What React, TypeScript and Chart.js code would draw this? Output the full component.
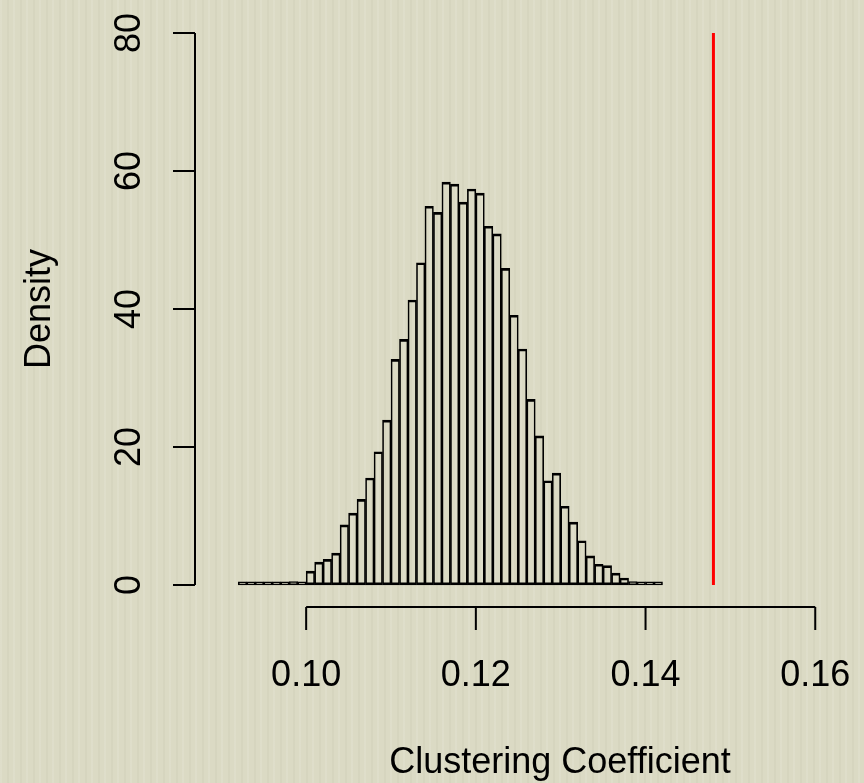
import React, { useEffect, useRef } from "react";
import { Chart, registerables } from "chart.js";

Chart.register(...registerables);

// Histogram bin centres (bin width 0.001, from 0.092 to 0.142)
const binCenters: number[] = [
  0.0925, 0.0935, 0.0945, 0.0955, 0.0965, 0.0975, 0.0985, 0.0995,
  0.1005, 0.1015, 0.1025, 0.1035, 0.1045, 0.1055, 0.1065, 0.1075,
  0.1085, 0.1095, 0.1105, 0.1115, 0.1125, 0.1135, 0.1145, 0.1155,
  0.1165, 0.1175, 0.1185, 0.1195, 0.1205, 0.1215, 0.1225, 0.1235,
  0.1245, 0.1255, 0.1265, 0.1275, 0.1285, 0.1295, 0.1305, 0.1315,
  0.1325, 0.1335, 0.1345, 0.1355, 0.1365, 0.1375, 0.1385, 0.1395,
  0.1405, 0.1415,
];

// Density per bin
const densities: number[] = [
  0.1, 0.1, 0.15, 0.2, 0.25, 0.1, 0.5, 0.3,
  2.0, 3.3, 3.7, 4.6, 8.7, 10.4, 12.4, 15.5,
  19.3, 23.9, 32.7, 35.6, 41.3, 46.7, 54.9, 54.0,
  58.4, 58.1, 55.5, 57.4, 56.8, 52.0, 50.9, 45.9,
  39.1, 34.2, 26.9, 21.6, 15.1, 16.2, 11.4, 9.1,
  6.4, 4.2, 3.0, 2.8, 1.7, 1.0, 0.5, 0.3,
  0.05, 0.2,
];

const observedValue = 0.148;
const observedLineRange: number[] = [0, 80];

const yTicks: number[] = [0, 20, 40, 60, 80];
const yTickLabels: string[] = ["0", "20", "40", "60", "80"];
const xTicks: number[] = [0.1, 0.12, 0.14, 0.16];
const xTickLabels: string[] = ["0.10", "0.12", "0.14", "0.16"];

const xTitle = "Clustering Coefficient";
const yTitle = "Density";

const FONT = "36px 'Liberation Sans', Arial, Helvetica, sans-serif";
const BG = "#dbdac4";

const rAxesPlugin = {
  id: "rAxes",
  afterDraw(chart: any) {
    const { ctx, chartArea, scales } = chart;
    const xs = scales.x;
    const ys = scales.y;
    ctx.save();
    ctx.strokeStyle = "#000";
    ctx.fillStyle = "#000";
    ctx.lineWidth = 2;
    ctx.font = FONT;

    // Y axis
    const ax = chartArea.left;
    ctx.beginPath();
    ctx.moveTo(ax, ys.getPixelForValue(yTicks[0]));
    ctx.lineTo(ax, ys.getPixelForValue(yTicks[yTicks.length - 1]));
    yTicks.forEach((v) => {
      const y = ys.getPixelForValue(v);
      ctx.moveTo(ax, y);
      ctx.lineTo(ax - 22, y);
    });
    ctx.stroke();
    ctx.textAlign = "center";
    ctx.textBaseline = "middle";
    yTicks.forEach((v, i) => {
      const y = ys.getPixelForValue(v);
      ctx.save();
      ctx.translate(ax - 65, y);
      ctx.rotate(-Math.PI / 2);
      ctx.fillText(yTickLabels[i], 0, 0);
      ctx.restore();
    });

    // X axis
    const ay = chartArea.bottom;
    ctx.beginPath();
    ctx.moveTo(xs.getPixelForValue(xTicks[0]), ay);
    ctx.lineTo(xs.getPixelForValue(xTicks[xTicks.length - 1]), ay);
    xTicks.forEach((v) => {
      const x = xs.getPixelForValue(v);
      ctx.moveTo(x, ay);
      ctx.lineTo(x, ay + 23);
    });
    ctx.stroke();
    xTicks.forEach((v, i) => {
      const x = xs.getPixelForValue(v);
      ctx.fillText(xTickLabels[i], x, ay + 69);
    });

    // Titles
    ctx.fillText(xTitle, 560, ay + 156);
    ctx.save();
    ctx.translate(40, (ys.getPixelForValue(yTicks[0]) + ys.getPixelForValue(yTicks[yTicks.length - 1])) / 2);
    ctx.rotate(-Math.PI / 2);
    ctx.fillText(yTitle, 0, 0);
    ctx.restore();

    ctx.restore();
  },
};

export default function App() {
  const canvasRef = useRef<HTMLCanvasElement | null>(null);

  useEffect(() => {
    document.body.style.margin = "0";
    document.body.style.background = BG;
    const canvas = canvasRef.current;
    if (!canvas) return;
    const chart = new Chart(canvas, {
      type: "bar",
      data: {
        datasets: [
          {
            type: "bar",
            data: binCenters.map((x, i) => ({ x, y: densities[i] })),
            backgroundColor: "rgba(0,0,0,0)",
            borderColor: "#000",
            borderWidth: { top: 2, bottom: 2, left: 1, right: 1 },
            borderSkipped: false,
            barPercentage: 1,
            categoryPercentage: 1,
            grouped: false,
            minBarLength: 3,
            order: 2,
          } as any,
          {
            type: "line",
            data: observedLineRange.map((y) => ({ x: observedValue, y })),
            borderColor: "#ff0000",
            borderWidth: 3,
            pointRadius: 0,
            fill: false,
            order: 1,
          } as any,
        ],
      },
      options: {
        animation: false,
        responsive: false,
        layout: { padding: { left: 195, right: 25, top: 11, bottom: 176 } },
        plugins: {
          legend: { display: false },
          tooltip: { enabled: false },
        },
        scales: {
          x: {
            type: "linear",
            min: 0.0869,
            max: 0.1628,
            offset: false,
            display: false,
          },
          y: {
            type: "linear",
            min: -3.2,
            max: 83.2,
            display: false,
          },
        },
      },
      plugins: [rAxesPlugin],
    });
    return () => chart.destroy();
  }, []);

  return (
    <div
      style={{
        position: "absolute",
        left: 0,
        top: 0,
        width: 864,
        height: 783,
        backgroundColor: BG,
        backgroundImage:
          "repeating-linear-gradient(90deg, rgba(255,255,255,0.10) 0px, rgba(255,255,255,0.10) 2px, rgba(255,255,255,0) 2px, rgba(255,255,255,0) 7px, rgba(120,120,90,0.05) 7px, rgba(120,120,90,0.05) 9px, rgba(255,255,255,0) 9px, rgba(255,255,255,0) 13px)",
      }}
    >
      <canvas ref={canvasRef} width={864} height={783} style={{ display: "block" }} />
    </div>
  );
}
